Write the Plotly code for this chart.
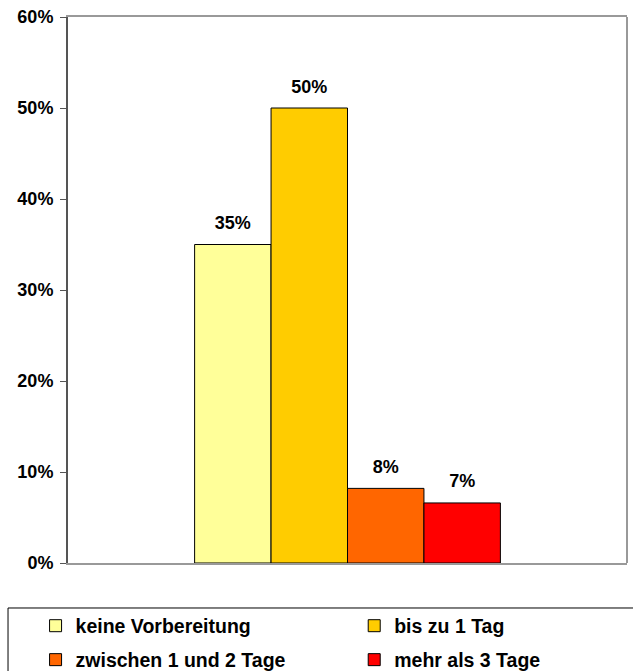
import plotly.graph_objects as go

# ---- data ----
category = ["Vorbereitungszeit"]
series_names = ["keine Vorbereitung", "bis zu 1 Tag", "zwischen 1 und 2 Tage", "mehr als 3 Tage"]
series_values = [0.35, 0.50, 0.082, 0.066]
series_colors = ["#FFFF99", "#FFCC00", "#FF6600", "#FF0000"]
y_ticks = [0, 0.1, 0.2, 0.3, 0.4, 0.5, 0.6]

FONT = "Liberation Sans, Arial, sans-serif"
legend_ids = ["legend", "legend2", "legend3", "legend4"]
# legend item anchor positions in paper coords (2 columns x 2 rows)
legend_x = [-0.058, 0.512, -0.058, 0.512]
legend_y = [-0.0797, -0.0797, -0.1419, -0.1419]

fig = go.Figure()
for i, (name, val, col) in enumerate(zip(series_names, series_values, series_colors)):
    fig.add_trace(go.Bar(
        x=category, y=[val], name=name, legend=legend_ids[i],
        marker=dict(color=col, line=dict(color="#000000", width=1)),
        offsetgroup=str(i), alignmentgroup="a",
        hoverinfo="skip",
    ))
for i, val in enumerate(series_values):
    fig.add_trace(go.Scatter(
        x=category, y=[val], mode="markers+text",
        text=["%.0f%%" % (val * 100)], textposition="top center",
        textfont=dict(family=FONT, size=18, color="#000000", weight="bold"),
        marker=dict(size=16, opacity=0),
        offsetgroup=str(i), alignmentgroup="a",
        showlegend=False, hoverinfo="skip", cliponaxis=False,
    ))

legend_common = dict(
    orientation="h", xanchor="left", yanchor="top",
    borderwidth=0, bgcolor="rgba(0,0,0,0)",
    font=dict(family=FONT, size=19.5, color="#000000", weight="bold"),
    itemwidth=30, traceorder="normal",
)
legends = {lid: dict(legend_common, x=lx, y=ly)
           for lid, lx, ly in zip(legend_ids, legend_x, legend_y)}

fig.update_layout(
    width=633, height=671,
    margin=dict(l=68, r=6, t=17, b=108, autoexpand=False),
    paper_bgcolor="#FFFFFF", plot_bgcolor="#FFFFFF",
    barmode="group", bargap=0.453, bargroupgap=0,
    scattermode="group", scattergap=0.453,
    font=dict(family=FONT, size=18, color="#000000", weight="bold"),
    showlegend=True,
    xaxis=dict(
        showticklabels=False, ticks="", showgrid=False, zeroline=False,
        showline=True, linecolor="#999999", linewidth=2, mirror=True,
        fixedrange=True,
    ),
    yaxis=dict(
        range=[0, 0.6], tickvals=y_ticks, tickformat=".0%",
        ticks="outside", ticklen=6, tickwidth=1, tickcolor="#555555",
        showgrid=False, zeroline=False,
        showline=True, linecolor="#555555", linewidth=2,
        tickfont=dict(family=FONT, size=18, color="#000000", weight="bold"),
        ticklabelstandoff=3,
        fixedrange=True,
    ),
    shapes=[
        dict(type="line", xref="paper", yref="paper", x0=1, x1=1, y0=0, y1=1,
             line=dict(color="#999999", width=2)),
        dict(type="rect", xref="paper", yref="paper", x0=-0.1073, x1=1.03, y0=-0.0824, y1=-0.22,
             line=dict(color="#000000", width=1), fillcolor="rgba(0,0,0,0)"),
    ],
    **legends,
)

fig.write_html(
    "out.html",
    config={"displayModeBar": False},
    post_script="document.body.style.margin='0px';document.body.style.overflow='hidden';",
)
